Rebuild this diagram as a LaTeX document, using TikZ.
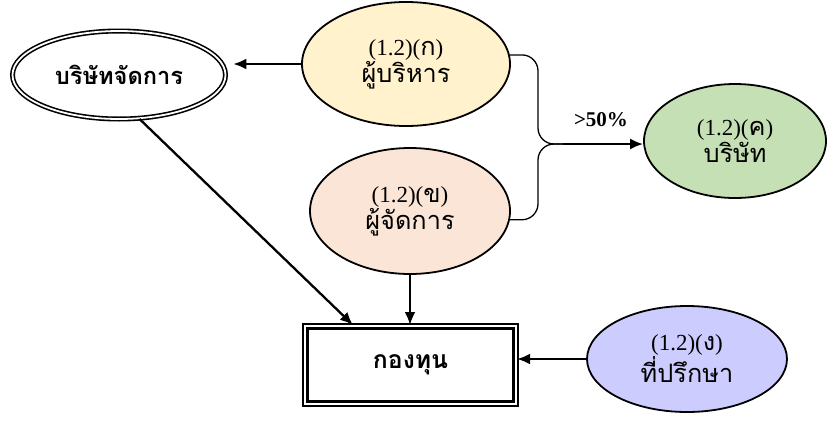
\documentclass[tikz,border=0pt]{standalone}
\usepackage{fontspec}
\setmainfont{Liberation Serif}
\newfontfamily\thai[Script=Thai,Scale=1.1]{Loma}
\usetikzlibrary{shapes.geometric,arrows.meta}

\begin{document}
\begin{tikzpicture}[x=1pt,y=-1pt,
    party/.style={ellipse,draw,line width=1.8pt,inner sep=0pt,align=center,
      font=\fontsize{23}{27}\selectfont},
    arr/.style={line width=2.3pt,-{Latex[length=13pt,width=11pt]}},
    link/.style={line width=1.3pt,rounded corners=16pt}]
  \useasboundingbox (0,0) rectangle (827,421);
  \node[ellipse,draw,double,double distance=1.8pt,line width=1.6pt,inner sep=0pt,
    minimum width=213pt,minimum height=88pt,
    font=\thai\bfseries\fontsize{21.5}{26}\selectfont] (mgmtco) at (119,75) {บริษัทจัดการ};
  \node[party,fill={rgb,255:red,255;green,242;blue,204},minimum width=208pt,minimum height=124pt]
    (exec) at (406,64) {(1.2)({\thai ก})\\{\thai ผู้บริหาร}};
  \node[party,fill={rgb,255:red,251;green,229;blue,214},minimum width=200pt,minimum height=126pt]
    (manager) at (410,211) {(1.2)({\thai ข})\\{\thai ผู้จัดการ}};
  \node[party,fill={rgb,255:red,197;green,224;blue,180},minimum width=182pt,minimum height=114pt]
    (company) at (735,141) {(1.2)({\thai ค})\\{\thai บริษัท}};
  \node[party,fill={rgb,255:red,204;green,204;blue,255},minimum width=200pt,minimum height=106pt]
    (advisor) at (687,359) {(1.2)({\thai ง})\\{\thai ที่ปรึกษา}};
  \node[rectangle,draw,double,double distance=2pt,line width=2.5pt,inner sep=0pt,
    minimum width=210.5pt,minimum height=77.5pt,
    font=\thai\bfseries\fontsize{22.5}{26}\selectfont] (fund) at (410.5,365) {กองทุน};

  \coordinate (bend) at (538,144);
  \coordinate (join) at (563,144);
  \draw[link] (exec.5) -| (bend) -- (join);
  \draw[link] (manager.-5) -| (bend) -- (join);
  \draw[arr] (join) -- (join -| company.west);
  \node[font=\bfseries\fontsize{21}{24}\selectfont] (pct) at (601,120) {>50\%};

  \draw[arr,shorten >=7pt] (exec.west) -- (exec.west -| mgmtco.east);
  \draw[arr] (mgmtco.-65) -- ([xshift=49pt]fund.north west);
  \draw[arr] (manager.south) -- (manager.south |- fund.north);
  \draw[arr] (advisor.west) -- (advisor.west -| fund.east);
\end{tikzpicture}
\end{document}
